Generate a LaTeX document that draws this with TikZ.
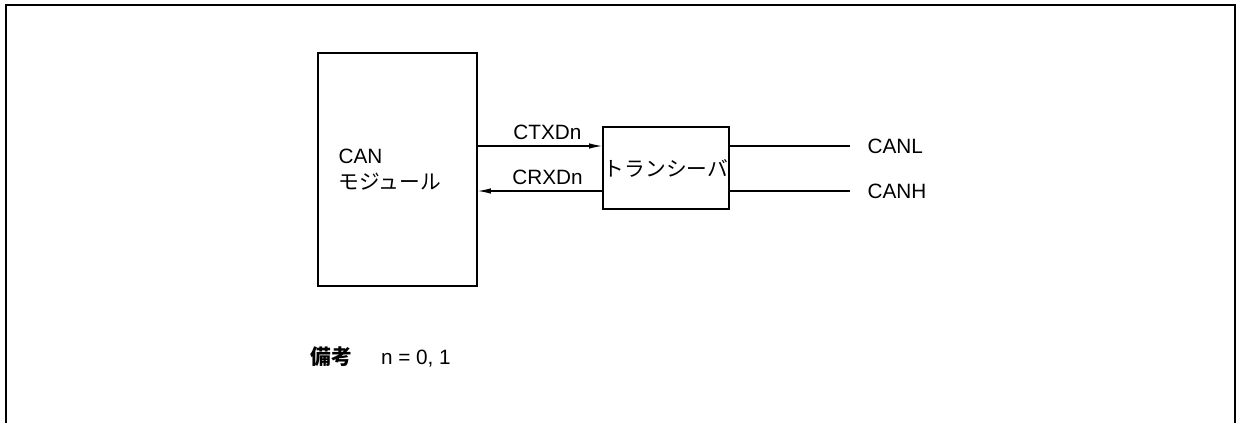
\documentclass[tikz,border=0pt]{standalone}
\usepackage{fontspec}
\setmainfont{Liberation Sans}
\newfontfamily\jpfont{Noto Sans CJK JP}
\usetikzlibrary{arrows.meta, positioning}

\begin{document}
\begin{tikzpicture}[line width=0.6pt,
                    font=\fontsize{11.8}{14.5}\selectfont,
                    blk/.style={draw, line width=1.1pt, inner sep=0pt},
                    tip/.style={-{Latex[length=2.6mm,width=1.1mm]}}]
  \useasboundingbox (0,0) rectangle (24.72,-8.46);
  \draw[line width=1.1pt] (0.12,-8.46) |- (24.70,-0.10) -- (24.70,-8.46);
  \node[blk, minimum width=3.18cm, minimum height=4.66cm] (can) at (7.95,-3.39) {};
  \node[anchor=west, align=left, inner sep=0pt] (cantxt) at (6.76,-3.39)
    {CAN\\{\jpfont モジュール}};
  \node[blk, minimum width=2.52cm, minimum height=1.64cm] (trx) at (13.32,-3.36)
    {\jpfont トランシーバ};
  \coordinate (ctx) at ([yshift=0.44cm]trx.west);
  \coordinate (crx) at ([yshift=-0.46cm]trx.west);
  \draw[tip] (can.east |- ctx) -- node[above, pos=0.56] {CTXDn} (ctx);
  \draw[tip] (crx) -- node[above, pos=0.44] {CRXDn} (can.east |- crx);
  \coordinate (lend) at (17.0,-2.92);
  \coordinate (hend) at (17.0,-3.82);
  \node[right=0.34cm of lend, inner sep=0pt] (canl) {CANL};
  \node[right=0.34cm of hend, inner sep=0pt] (canh) {CANH};
  \draw (trx.east |- lend) -- (lend);
  \draw (trx.east |- hend) -- (hend);
  \node[anchor=west, inner sep=0pt] (rmk) at (6.20,-7.14)
    {{\jpfont\bfseries 備考}\hspace*{0.58cm}n = 0, 1};
\end{tikzpicture}
\end{document}
